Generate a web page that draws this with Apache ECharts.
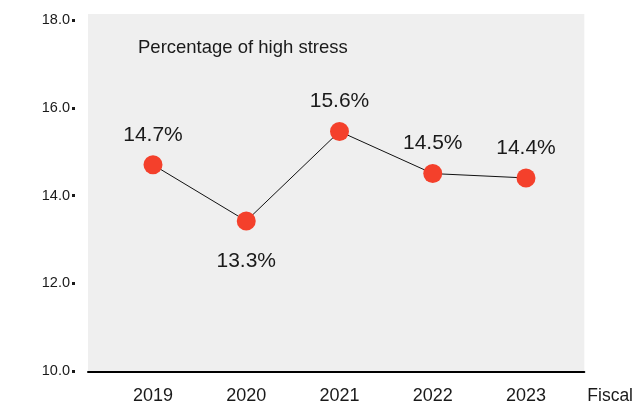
<!DOCTYPE html>
<html>
<head>
<meta charset="utf-8">
<script src="https://cdn.jsdelivr.net/npm/echarts@6/dist/echarts.min.js"></script>
<style>html,body{margin:0;padding:0;background:#fff}#c{width:636px;height:405px}</style>
</head>
<body>
<div id="c"></div>
<script>
const years = ['2019', '2020', '2021', '2022', '2023'];
const stressValues = [14.7, 13.42, 15.46, 14.5, 14.4];
const valueLabels = ['14.7%', '13.3%', '15.6%', '14.5%', '14.4%'];
const labelPositions = ['top', 'bottom', 'top', 'top', 'top'];
const yTicks = [10, 12, 14, 16, 18];
const chartTitle = 'Percentage of high stress';
const xName = 'Fiscal';

const chart = echarts.init(document.getElementById('c'));
const font = 'Liberation Sans, Arial, sans-serif';
chart.setOption({
  animation: false,
  textStyle: { fontFamily: font },
  title: {
    text: chartTitle, left: 133, top: 33,
    textStyle: { fontSize: 18.5, fontWeight: 'normal', color: '#1a1a1a', fontFamily: font }
  },
  grid: [
    { left: 88, right: 47, top: 14, bottom: 33, show: true, backgroundColor: '#efefef', borderWidth: 0 },
    { left: 153, right: 110, top: 20, bottom: 33, show: false }
  ],
  xAxis: [
    {
      gridIndex: 0, type: 'value', min: 0, max: 1,
      axisLine: { show: true, lineStyle: { color: '#000', width: 2 } },
      axisTick: { show: false }, axisLabel: { show: false }, splitLine: { show: false },
      name: xName, nameLocation: 'end', nameGap: 3,
      nameTextStyle: { fontSize: 17.5, color: '#1a1a1a', verticalAlign: 'top', align: 'left', padding: [15, 0, 0, 0] }
    },
    {
      gridIndex: 1, type: 'category', data: years, boundaryGap: false,
      axisLine: { show: false }, axisTick: { show: false }, splitLine: { show: false },
      axisLabel: { fontSize: 18, color: '#1a1a1a', margin: 16 }
    }
  ],
  yAxis: [
    { gridIndex: 0, type: 'value', min: 0, max: 1, show: false },
    {
      gridIndex: 1, type: 'value', min: yTicks[0], max: yTicks[yTicks.length - 1], interval: 2,
      offset: 78,
      axisLine: { show: false },
      axisTick: { show: true, length: 3, lineStyle: { color: '#1a1a1a', width: 3 } },
      splitLine: { show: false },
      axisLabel: { fontSize: 14.5, color: '#1a1a1a', margin: 5, formatter: v => v.toFixed(1) }
    }
  ],
  series: [{
    type: 'line', xAxisIndex: 1, yAxisIndex: 1,
    data: stressValues.map((v, i) => ({
      value: v,
      label: { position: labelPositions[i], distance: labelPositions[i] === 'bottom' ? 20 : 10 }
    })),
    symbol: 'circle', symbolSize: 19,
    itemStyle: { color: '#f4402b' },
    lineStyle: { color: '#111', width: 1 },
    label: {
      show: true, fontSize: 21, color: '#1a1a1a',
      formatter: p => valueLabels[p.dataIndex]
    }
  }]
});
</script>
</body>
</html>
